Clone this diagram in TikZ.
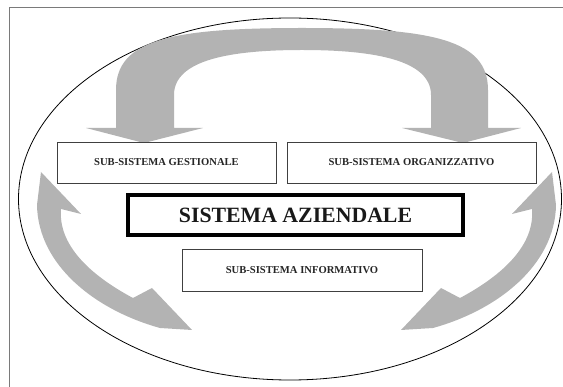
\documentclass[tikz,border=0pt]{standalone}
\usepackage{fontspec}
\setmainfont{Liberation Serif}
\usetikzlibrary{shapes.geometric}
\definecolor{arrowgrey}{HTML}{B3B3B3}
\definecolor{framegrey}{HTML}{7A7A7A}
\definecolor{boxline}{HTML}{404040}
\tikzset{
  box/.style={draw=boxline, line width=0.9pt, fill=white, inner sep=0pt, text=black!85, font=\bfseries\fontsize{10.6}{12}\selectfont},
  mainbox/.style={draw=black, line width=4pt, fill=white, inner sep=0pt, text=black!90, font=\bfseries\fontsize{21.8}{24}\selectfont},
  bigarrow/.style={fill=arrowgrey, draw=none}
}
\begin{document}
\begin{tikzpicture}[x=1pt,y=-1pt]
\useasboundingbox (0,0) rectangle (563,387);
% outer frame (top and left sides visible)
\draw[framegrey, line width=1.6pt] (570,7.5) -- (9.5,7.5) -- (9.5,395);
% ellipse
\node[draw=black, line width=0.8pt, ellipse, minimum width=543pt, minimum height=362pt, inner sep=0pt] (env) at (290,199) {};
% top arrow
\fill[bigarrow] (144,143) -- (203,128) -- (174,128) -- (174,95)
  .. controls (174,60) and (230,50) .. (302,50)
  .. controls (374,50) and (431,60) .. (431,95) -- (431,128) -- (402,128)
  -- (463,143) -- (521,128) -- (488,128) -- (488,90)
  .. controls (488,40) and (434,28) .. (302,28)
  .. controls (170,28) and (116,40) .. (116,90) -- (116,128) -- (86,128) -- cycle;
% left arrow
\fill[bigarrow] (41,172) -- (81,214) -- (61,209)
  .. controls (58,245) and (90,275) .. (133,298)
  -- (152,288) -- (192,330) -- (160,328)
  .. controls (95,310) and (38,265) .. (37,205) -- cycle;
% right arrow (mirror)
\begin{scope}[xshift=593pt, x=-1pt]
\fill[bigarrow] (41,172) -- (81,214) -- (61,209)
  .. controls (58,245) and (90,275) .. (133,298)
  -- (152,288) -- (192,330) -- (160,328)
  .. controls (95,310) and (38,265) .. (37,205) -- cycle;
\end{scope}
% boxes
\node[box, minimum width=219pt, minimum height=41pt] (gest) at (166.5,162.5) {SUB-SISTEMA GESTIONALE};
\node[box, minimum width=249pt, minimum height=41pt] (org) at (411.5,162.5) {SUB-SISTEMA ORGANIZZATIVO};
\node[mainbox, minimum width=335pt, minimum height=40pt] (az) at (295.5,215) {SISTEMA AZIENDALE};
\node[box, minimum width=240pt, minimum height=42pt] (inf) at (302,270) {SUB-SISTEMA INFORMATIVO};
\end{tikzpicture}
\end{document}
